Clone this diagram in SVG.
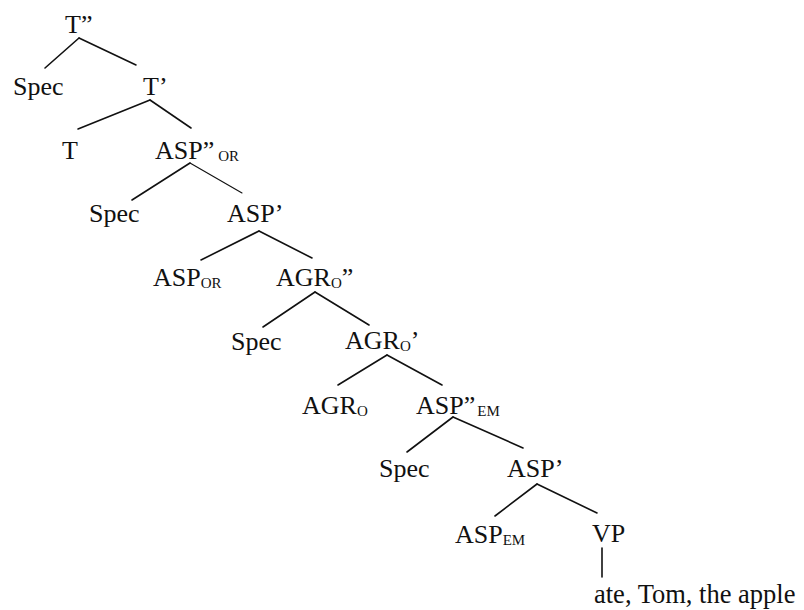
<svg xmlns="http://www.w3.org/2000/svg" width="804" height="610" viewBox="0 0 804 610">
<style>
text{font-family:"Liberation Serif","Times New Roman",serif;font-size:26px;fill:#111}
.sub{font-size:15px}
#edges line{stroke:#111;stroke-width:1.6;stroke-linecap:round}
</style>
<rect width="804" height="610" fill="#fff"/>
<g id="edges">
<line x1="79" y1="38" x2="45" y2="68"/>
<line x1="79" y1="38" x2="136" y2="65"/>
<line x1="150" y1="100" x2="78" y2="129"/>
<line x1="150" y1="100" x2="191" y2="128"/>
<line x1="190" y1="163" x2="132" y2="200"/>
<line x1="190" y1="163" x2="242" y2="193" style="stroke-width:1.1"/>
<line x1="259" y1="231" x2="201" y2="260"/>
<line x1="259" y1="231" x2="312" y2="258"/>
<line x1="315" y1="292" x2="263" y2="327"/>
<line x1="315" y1="292" x2="369" y2="325"/>
<line x1="387" y1="355" x2="338" y2="385"/>
<line x1="387" y1="355" x2="442" y2="385"/>
<line x1="453" y1="417" x2="407" y2="452"/>
<line x1="453" y1="417" x2="523" y2="448"/>
<line x1="537" y1="484" x2="495" y2="516"/>
<line x1="537" y1="484" x2="597" y2="513"/>
<line x1="602" y1="548" x2="602" y2="577"/>
</g>
<g id="n-T2"><text x="65" y="33">T”</text></g>
<g id="n-Spec1"><text x="13" y="95">Spec</text></g>
<g id="n-T1"><text x="143" y="95">T’</text></g>
<g id="n-T"><text x="62" y="159">T</text></g>
<g id="n-ASP2OR"><text x="155" y="159">ASP”<tspan class="sub" dx="4" dy="2">OR</tspan></text></g>
<g id="n-Spec2"><text x="89" y="222">Spec</text></g>
<g id="n-ASP1a"><text x="227" y="222">ASP’</text></g>
<g id="n-ASPOR"><text x="153" y="286">ASP<tspan class="sub" dy="2">OR</tspan></text></g>
<g id="n-AGRO2"><text x="276" y="286">AGR<tspan class="sub" dy="2">O</tspan><tspan dy="-2">”</tspan></text></g>
<g id="n-Spec3"><text x="231" y="350">Spec</text></g>
<g id="n-AGRO1"><text x="345" y="349">AGR<tspan class="sub" dy="2">O</tspan><tspan dy="-2">’</tspan></text></g>
<g id="n-AGRO"><text x="302" y="414">AGR<tspan class="sub" dy="2">O</tspan></text></g>
<g id="n-ASP2EM"><text x="416" y="414">ASP”<tspan class="sub" dx="2" dy="2">EM</tspan></text></g>
<g id="n-Spec4"><text x="379" y="477">Spec</text></g>
<g id="n-ASP1b"><text x="507" y="477">ASP’</text></g>
<g id="n-ASPEM"><text x="455" y="543">ASP<tspan class="sub" dy="2">EM</tspan></text></g>
<g id="n-VP"><text x="592" y="542">VP</text></g>
<g id="n-leaf"><text x="594" y="603" style="font-size:26.5px">ate, Tom, the apple</text></g>
</svg>
